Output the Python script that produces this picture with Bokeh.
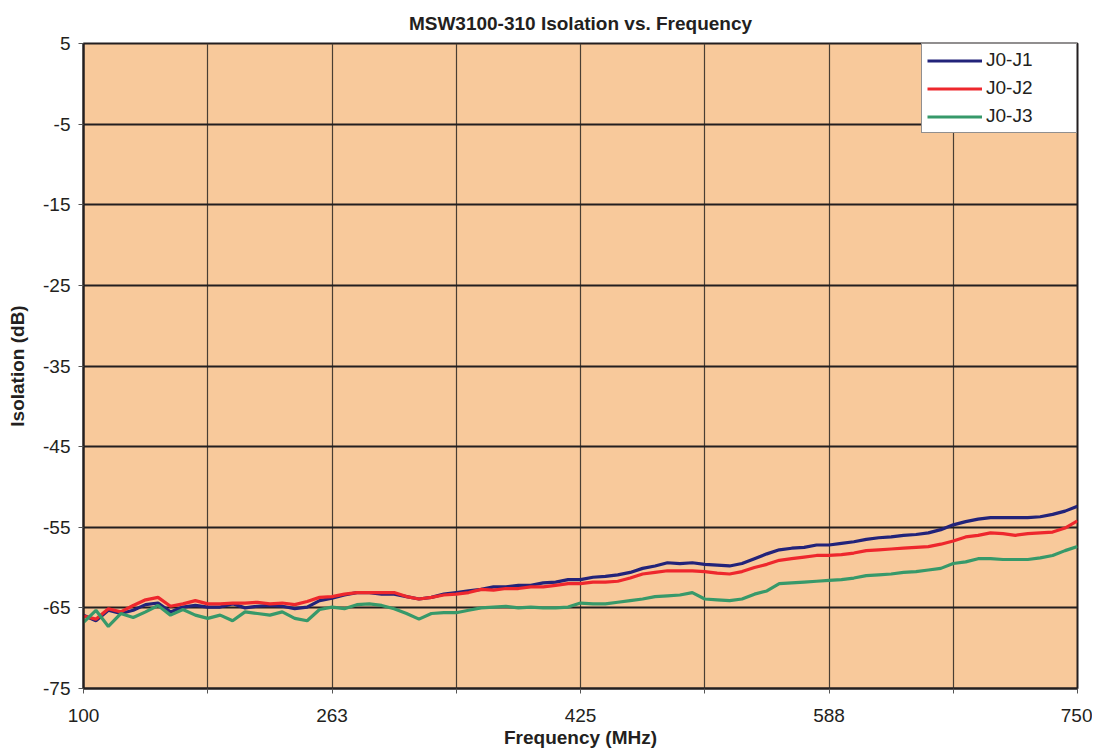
from bokeh.plotting import figure
from bokeh.models import FixedTicker, Legend, LegendItem, Range1d, ColumnDataSource
from bokeh.embed import file_html
from bokeh.resources import INLINE

# Frequency sweep points (MHz)
freq = [100 + 8.125 * i for i in range(81)]

j0_j1 = [-65.9, -66.6, -65.3, -65.7, -65.3, -64.6, -64.4, -65.5, -64.9, -64.7,
         -64.9, -64.9, -64.5, -65.0, -64.8, -64.7, -64.8, -65.1, -64.9, -64.1,
         -63.8, -63.4, -63.1, -63.1, -63.3, -63.3, -63.6, -63.9, -63.7, -63.3,
         -63.1, -62.9, -62.7, -62.4, -62.4, -62.2, -62.2, -61.9, -61.8, -61.5,
         -61.5, -61.2, -61.1, -60.9, -60.6, -60.1, -59.8, -59.4, -59.5, -59.4,
         -59.6, -59.7, -59.8, -59.5, -58.9, -58.3, -57.8, -57.6, -57.5, -57.2,
         -57.2, -57.0, -56.8, -56.5, -56.3, -56.2, -56.0, -55.9, -55.7, -55.3,
         -54.7, -54.3, -54.0, -53.8, -53.8, -53.8, -53.8, -53.7, -53.4, -53.0,
         -52.4]

j0_j2 = [-66.0, -66.4, -65.1, -65.5, -64.7, -64.0, -63.7, -64.8, -64.5, -64.1,
         -64.5, -64.5, -64.4, -64.4, -64.3, -64.5, -64.4, -64.6, -64.2, -63.7,
         -63.6, -63.3, -63.1, -63.1, -63.1, -63.1, -63.6, -63.9, -63.7, -63.4,
         -63.3, -63.1, -62.7, -62.8, -62.6, -62.6, -62.4, -62.4, -62.2, -62.0,
         -62.0, -61.8, -61.8, -61.7, -61.3, -60.8, -60.6, -60.4, -60.4, -60.4,
         -60.5, -60.7, -60.8, -60.5, -60.0, -59.6, -59.1, -58.9, -58.7, -58.5,
         -58.5, -58.4, -58.2, -57.9, -57.8, -57.7, -57.6, -57.5, -57.4, -57.1,
         -56.7, -56.2, -56.0, -55.7, -55.8, -56.0, -55.8, -55.7, -55.6, -55.1,
         -54.2]

j0_j3 = [-66.8, -65.3, -67.3, -65.7, -66.2, -65.5, -64.7, -65.9, -65.2, -65.9,
         -66.3, -65.9, -66.6, -65.5, -65.7, -65.9, -65.5, -66.3, -66.6, -65.2,
         -64.9, -65.1, -64.6, -64.5, -64.7, -65.1, -65.7, -66.4, -65.7, -65.6,
         -65.6, -65.3, -65.0, -64.9, -64.8, -65.0, -64.9, -65.0, -65.0, -64.9,
         -64.4, -64.5, -64.5, -64.3, -64.1, -63.9, -63.6, -63.5, -63.4, -63.1,
         -63.9, -64.0, -64.1, -63.9, -63.3, -62.9, -62.0, -61.9, -61.8, -61.7,
         -61.6, -61.5, -61.3, -61.0, -60.9, -60.8, -60.6, -60.5, -60.3, -60.1,
         -59.5, -59.3, -58.9, -58.9, -59.0, -59.0, -59.0, -58.8, -58.5, -57.9,
         -57.4]

series_names = ["J0-J1", "J0-J2", "J0-J3"]
series_colors = ["#22237A", "#EE272D", "#37996A"]

x_ticks = [100, 181.25, 262.5, 343.75, 425, 506.25, 587.5, 668.75, 750]
x_tick_labels = ["100", "", "263", "", "425", "", "588", "", "750"]
y_ticks = [5, -5, -15, -25, -35, -45, -55, -65, -75]
y_tick_labels = ["5", "-5", "-15", "-25", "-35", "-45", "-55", "-65", "-75"]

FONT = "Liberation Sans"
TXT = "#231F20"

p = figure(width=1092, height=750, output_backend="svg", toolbar_location=None,
           x_range=Range1d(100, 750), y_range=Range1d(-75, 5),
           min_border_left=83, min_border_right=15, min_border_top=43,
           min_border_bottom=60,
           title="MSW3100-310 Isolation vs. Frequency")

p.background_fill_color = "#F8C99B"
p.border_fill_color = "white"
p.outline_line_color = TXT
p.outline_line_width = 2

p.title.align = "center"
p.title.text_font = FONT
p.title.text_font_size = "19px"
p.title.text_font_style = "bold"
p.title.text_color = TXT
p.title.standoff = 19

# axes
p.xaxis.ticker = FixedTicker(ticks=x_ticks)
p.xaxis.major_label_overrides = {t: l for t, l in zip(x_ticks, x_tick_labels)}
p.yaxis.ticker = FixedTicker(ticks=y_ticks)
p.yaxis.major_label_overrides = {t: l for t, l in zip(y_ticks, y_tick_labels)}
for ax in (p.xaxis[0], p.yaxis[0]):
    ax.major_label_text_font = FONT
    ax.major_label_text_font_size = "19px"
    ax.major_label_text_color = TXT
    ax.axis_label_text_font = FONT
    ax.axis_label_text_font_size = "19px"
    ax.axis_label_text_font_style = "bold"
    ax.axis_label_text_color = TXT
    ax.axis_line_color = TXT
    ax.axis_line_width = 2
    ax.major_tick_line_color = "#555555"
    ax.major_tick_out = 5
    ax.major_tick_in = 0
    ax.minor_tick_line_color = None
p.xaxis.axis_label = "Frequency (MHz)"
p.yaxis.axis_label = "Isolation (dB)"
p.xaxis.major_label_standoff = 15
p.xaxis.axis_label_standoff = 2
p.yaxis.major_label_standoff = 8
p.yaxis.axis_label_standoff = 12

# grid
p.xgrid.grid_line_color = "#4A3E33"
p.xgrid.grid_line_width = 1.2
p.ygrid.grid_line_color = TXT
p.ygrid.grid_line_width = 2.2

src = ColumnDataSource(dict(freq=freq, j1=j0_j1, j2=j0_j2, j3=j0_j3))
items = []
for key, name, color in zip(["j1", "j2", "j3"], series_names, series_colors):
    r = p.line("freq", key, source=src, line_color=color, line_width=3.2)
    items.append(LegendItem(label=name, renderers=[r]))

legend = Legend(items=items, location="top_right", margin=0, padding=5,
                spacing=6, glyph_width=55, glyph_height=21, label_height=21,
                label_width=85, label_standoff=4,
                label_text_font=FONT, label_text_font_size="19px",
                label_text_color=TXT,
                border_line_color=TXT, border_line_width=1,
                background_fill_color="white", background_fill_alpha=1)
p.add_layout(legend)

open("out.html", "w").write(file_html(p, INLINE))
